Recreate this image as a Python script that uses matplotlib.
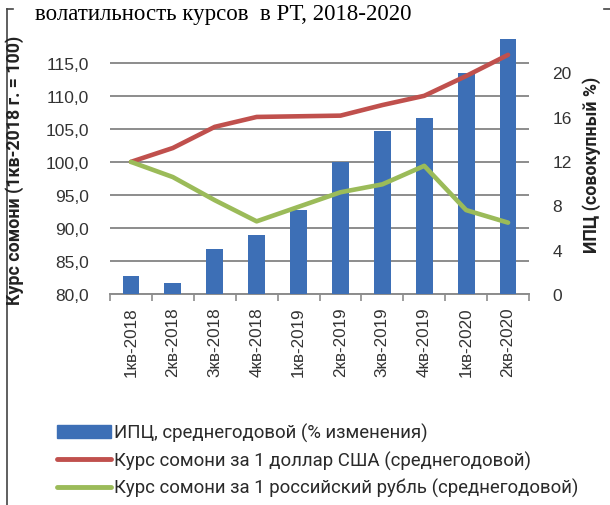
import matplotlib
matplotlib.use("Agg")
import matplotlib.pyplot as plt
from matplotlib.lines import Line2D
from matplotlib.patches import Patch
from matplotlib.ticker import FuncFormatter

# Data
quarters = ['1кв-2018', '2кв-2018', '3кв-2018', '4кв-2018', '1кв-2019',
            '2кв-2019', '3кв-2019', '4кв-2019', '1кв-2020', '2кв-2020']
cpi = [1.6, 1.0, 4.05, 5.3, 7.6, 11.9, 14.7, 15.9, 19.9, 23.5]      # right axis, %
usd = [100, 102.1, 105.3, 106.8, 106.9, 107.0, 108.6, 110.0, 113.0, 116.2]  # left axis
rub = [100, 97.7, 94.2, 91.0, 93.2, 95.4, 96.6, 99.4, 92.7, 90.8]            # left axis

left_ticks = [80, 85, 90, 95, 100, 105, 110, 115]
right_ticks = [0, 4, 8, 12, 16, 20]

title = 'волатильность курсов  в РТ, 2018-2020'
left_label = 'Курс сомони (1кв-2018 г. = 100)'
right_label = 'ИПЦ (совокупный %)'
labels = ['ИПЦ, среднегодовой (% изменения)',
          'Курс сомони за 1 доллар США (среднегодовой)',
          'Курс сомони за 1 российский рубль (среднегодовой)']

blue = '#3D6FB6'
red = '#C0504D'
green = '#9BBB59'
grid = '#8C8C8C'
tick_font = 'Liberation Sans'
text_font = 'Roboto'

W, H = 610, 506
fig = plt.figure(figsize=(W / 100, H / 100), dpi=100)

# axes box in pixels: x 110..529, y 40..295
ax = fig.add_axes([110 / W, 1 - 295 / H, (529 - 110) / W, (295 - 40) / H])
ax.set_xlim(-0.5, len(quarters) - 0.5)
ax.set_ylim(80, 118.6)
ax.set_yticks(left_ticks)
ax.yaxis.set_major_formatter(FuncFormatter(lambda v, p: f'{v:.1f}'.replace('.', ',')))
ax.grid(axis='y', color=grid, lw=1.4)
ax.set_axisbelow(True)
for s in ['top', 'left', 'right']:
    ax.spines[s].set_visible(False)
ax.spines['bottom'].set_color(grid)
ax.spines['bottom'].set_linewidth(1.4)
ax.tick_params(axis='y', length=0, pad=15, labelsize=12.5, labelcolor='#333333')
ax.set_xticks(range(len(quarters)))
ax.set_xticklabels(quarters, rotation=90, fontsize=12.3, color='#333333', family=tick_font)
ax.set_xticks([i - 0.5 for i in range(len(quarters) + 1)], minor=True)
ax.tick_params(axis='x', which='major', length=0, pad=9)
ax.tick_params(axis='x', which='minor', length=5, color=grid, width=1.2)
for t in ax.get_yticklabels():
    t.set_family(tick_font)

# bars on the right scale
axb = ax.twinx()
axb.bar(range(len(quarters)), cpi, width=0.4, color=blue, zorder=2)
axb.set_ylim(0, 23.0)
axb.set_yticks(right_ticks)
axb.tick_params(axis='y', length=0, pad=17, labelsize=12.5, labelcolor='#333333')
for t in axb.get_yticklabels():
    t.set_family(tick_font)
for s in axb.spines.values():
    s.set_visible(False)

# lines on the left scale, drawn above the bars
axl = ax.twinx()
axl.set_ylim(ax.get_ylim())
axl.plot(range(len(quarters)), usd, color=red, lw=3.3, solid_capstyle='round')
axl.plot(range(len(quarters)), rub, color=green, lw=3.3, solid_capstyle='round')
axl.set_yticks([])
for s in axl.spines.values():
    s.set_visible(False)

fig.text(35 / W, 1 - 20 / H, title, family='Liberation Serif', fontsize=16.5,
         va='baseline', ha='left')
fig.text(15 / W, 1 - 170 / H, left_label, rotation=90, ha='center', va='center',
         family=text_font, fontweight='bold', fontsize=12.8, color='#222222')
fig.text(592 / W, 1 - 165 / H, right_label, rotation=90, ha='center', va='center',
         family=text_font, fontweight='bold', fontsize=12.8, color='#222222')

handles = [Patch(color=blue),
           Line2D([], [], color=red, lw=3.5, solid_capstyle='round'),
           Line2D([], [], color=green, lw=3.5, solid_capstyle='round')]
fig.legend(handles, labels, loc='upper left', bbox_to_anchor=(57 / W, 1 - 424 / H),
           frameon=False, borderpad=0, borderaxespad=0, handlelength=2.9,
           handletextpad=0.15, labelspacing=0.45,
           prop={'family': text_font, 'size': 13.4}, labelcolor='#2a2a2a')

# frame fragments around the picture
fig.add_artist(Line2D([7 / W, 7 / W], [1 - 10 / H, 0], transform=fig.transFigure,
                      color='#444444', lw=1.2))
fig.add_artist(Line2D([7 / W, 13 / W], [1 - 10 / H, 1 - 10 / H], transform=fig.transFigure,
                      color='#444444', lw=1.2))
fig.add_artist(Line2D([604 / W, 610 / W], [1 - 10 / H, 1 - 10 / H], transform=fig.transFigure,
                      color='#444444', lw=1.2))

fig.savefig('out.png', dpi=100)
